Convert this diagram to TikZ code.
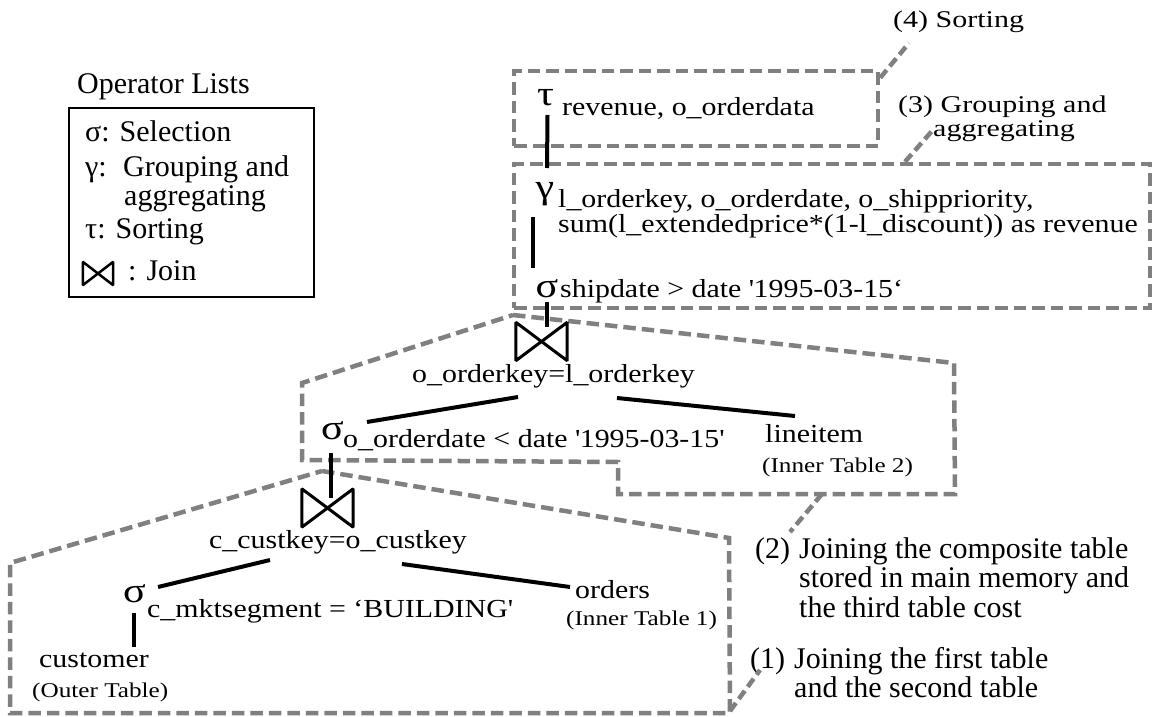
\documentclass[tikz,border=0pt]{standalone}
\usepackage{fontspec}
\setmainfont{Liberation Serif}
\newfontfamily\treefamily[FakeStretch=1.15]{Liberation Serif}
\newfontfamily\notefamily[FakeStretch=1.2]{Liberation Serif}
\newfontfamily\tagfamily[FakeStretch=1.25]{Liberation Serif}
\usepackage{tikz}
\definecolor{regGray}{HTML}{808080}
\newcommand{\treefont}{\treefamily\fontsize{26}{26}\selectfont}
\newcommand{\opfont}{\notefamily\fontsize{35}{35}\selectfont}
\newcommand{\tagfont}{\tagfamily\fontsize{24}{24}\selectfont}
\newcommand{\smallfont}{\notefamily\fontsize{21}{21}\selectfont}
\newcommand{\legfont}{\fontsize{30}{34}\selectfont}
\newcommand{\costfont}{\fontsize{30}{29.5}\selectfont}
\newcommand{\drawjoin}[2]{\draw[line width=#2, line join=bevel] (#1.north west) -- (#1.south west) -- (#1.north east) -- (#1.south east) -- cycle;}
\tikzset{
  op/.style={inner sep=0pt, anchor=base, font=\opfont},
  cond/.style={inner sep=0pt, anchor=base west, font=\treefont},
  tbl/.style={inner sep=0pt, anchor=base west, font=\treefont},
  tblnote/.style={inner sep=0pt, anchor=base west, font=\smallfont},
  legitem/.style={inner sep=0pt, anchor=base west, font=\legfont},
  tag/.style={inner sep=0pt, anchor=base west, font=\tagfont},
  cost/.style={inner sep=0pt, anchor=base west, font=\costfont},
  treeline/.style={line width=4pt},
  region/.style={draw=regGray, line width=4.5pt, dash pattern=on 12.5pt off 6pt},
  leader/.style={draw=regGray, line width=4.5pt, dash pattern=on 10pt off 5pt},
  joinop/.style={inner sep=0pt, minimum width=#1, minimum height=38pt},
}

\begin{document}
\begin{tikzpicture}[x=1pt, y=-1pt]
\useasboundingbox (0,0) rectangle (1162,717);

% operator legend
\node[legitem] (legtitle) at (77,93) {Operator Lists};
\draw[line width=2pt] (69,108) rectangle (314,297);
\node[legitem] (legsel) at (85,141) {σ: Selection};
\node[legitem] (leggrp) at (85,176) {γ:};
\node[legitem] (leggrpa) at (123,176) {Grouping and};
\node[legitem] (leggrpb) at (124,205) {aggregating};
\node[legitem] (legsort) at (85,238) {τ: Sorting};
\node[inner sep=0pt, minimum width=30pt, minimum height=23pt] (legjoin) at (98,273.5) {};
\drawjoin{legjoin}{2.5pt}
\node[legitem] (legjoint) at (128,280) {: Join};

% cost regions
\node[region, minimum width=364pt, minimum height=75pt] (sortbox) at (696,108.5) {};
\node[region, minimum width=636pt, minimum height=144pt] (groupbox) at (832,236) {};
\draw[region] (513,315) -- (954,363) -- (955,494) -- (618,494) -- (618,462) -- (302,460) -- (302,383) -- cycle;
\draw[region] (322,471) -- (729,538) -- (730,713) -- (10,713) -- (10,563) -- cycle;
\coordinate (r2tag) at (822,494);
\coordinate (r1tag) at (730,711);

% query tree
\node[op] (tau) at (545.5,106) {τ};
\node[cond] (taucond) at (562,115) {revenue, o\_orderdata};
\node[op] (gam) at (545,198) {γ};
\node[cond] (gamcond) at (558,207) {l\_orderkey, o\_orderdate, o\_shippriority,};
\node[cond] (gamcondb) at (558,232) {sum(l\_extendedprice*(1-l\_discount)) as revenue};
\node[op] (sig3) at (547,297) {σ};
\node[cond] (sig3cond) at (560,297) {shipdate > date \textquotesingle1995-03-15‘};
\node[joinop=51pt] (join2) at (541.5,341.5) {};
\drawjoin{join2}{3pt}
\node[cond] (join2cond) at (412,382) {o\_orderkey=l\_orderkey};
\node[op] (sig2) at (332.5,439) {σ};
\node[cond] (sig2cond) at (343,447) {o\_orderdate < date \textquotesingle1995-03-15\textquotesingle};
\node[tbl] (line) at (765,442) {lineitem};
\node[tblnote] (linenote) at (762,472) {(Inner Table 2)};
\node[joinop=51pt] (join1) at (327.5,508) {};
\drawjoin{join1}{3pt}
\node[cond] (join1cond) at (209,548) {c\_custkey=o\_custkey};
\node[op] (sig1) at (134.5,602) {σ};
\node[cond] (sig1cond) at (147,617) {c\_mktsegment = ‘BUILDING\textquotesingle};
\node[tbl] (ord) at (575,598) {orders};
\node[tblnote] (ordnote) at (566,625) {(Inner Table 1)};
\node[tbl] (cust) at (39,667) {customer};
\node[tblnote] (custnote) at (32,697) {(Outer Table)};

\draw[treeline] ([shift={(2,9)}]tau.base) -- ([shift={(2,-30)}]gam.base);
\draw[treeline] ([shift={(-12,19)}]gam.base) -- ([shift={(-14,-29)}]sig3.base);
\draw[treeline] ([shift={(0,5)}]sig3.base) -- ([shift={(5.5,-14.5)}]join2.center);
\draw[treeline] ([shift={(-23.5,55.5)}]join2.center) -- ([shift={(34.5,-17)}]sig2.base);
\draw[treeline] ([shift={(75.5,56.5)}]join2.center) -- ([shift={(30,-26)}]line.base west);
\draw[treeline] ([shift={(-1.5,14)}]sig2.base) -- ([shift={(3.5,-10)}]join1.center);
\draw[treeline] ([shift={(-57.5,52)}]join1.center) -- ([shift={(23.5,-15)}]sig1.base);
\draw[treeline] ([shift={(74.5,56)}]join1.center) -- ([shift={(-5,-11)}]ord.base west);
\draw[treeline] ([shift={(-0.5,11)}]sig1.base) -- ([shift={(95,-20)}]cust.base west);

% region tags
\node[tag] (tag4) at (893,28) {(4) Sorting};
\node[tag] (tag3) at (898,112) {(3) Grouping and};
\node[tag] (tag3b) at (933,136) {aggregating};
\node[cost] (tag2) at (755,558) {\begin{tabular}[t]{@{}l@{\hspace{9pt}}l@{}}(2)&Joining the composite table\\&stored in main memory and\\&the third table cost\end{tabular}};
\node[cost] (tag1) at (750,668) {\begin{tabular}[t]{@{}l@{\hspace{9pt}}l@{}}(1)&Joining the first table\\&and the second table\end{tabular}};

\draw[leader] ([yshift=-9pt]sortbox.north east) -- ([shift={(16,15)}]tag4.base west);
\draw[leader] ([xshift=73pt]groupbox.north) -- ([shift={(-1,-5)}]tag3b.base west);
\draw[leader] (r2tag) -- ([shift={(35,-26)}]tag2.base west);
\draw[leader] (r1tag) -- ([shift={(10,2)}]tag1.base west);
\end{tikzpicture}
\end{document}
